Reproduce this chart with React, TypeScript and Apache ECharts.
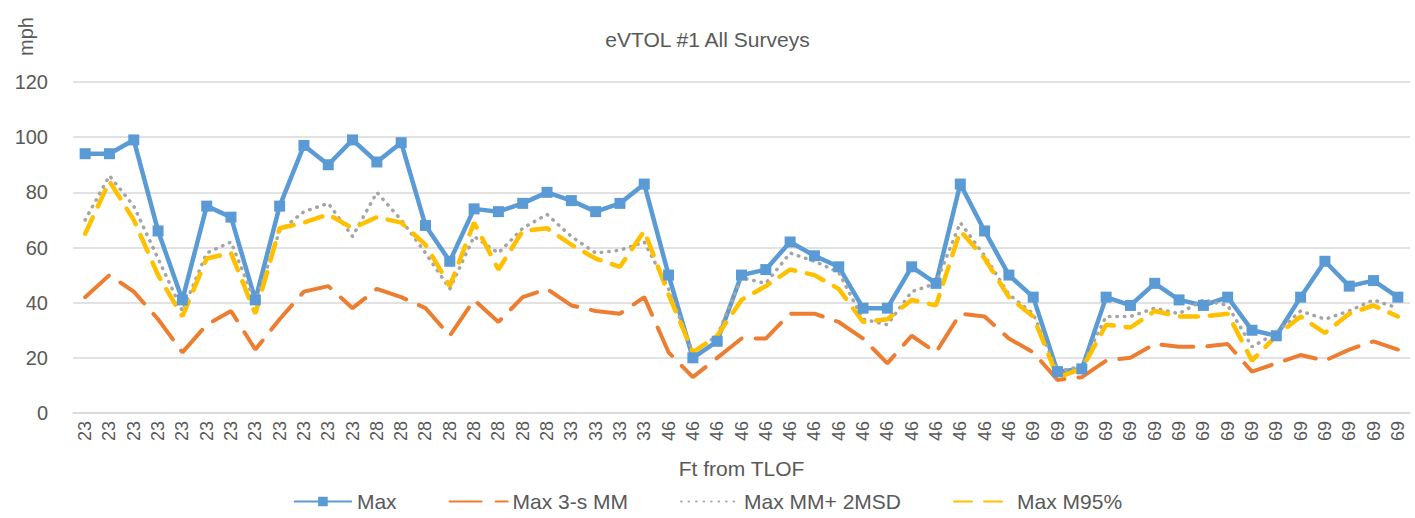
import React, { useEffect, useRef } from "react";
import * as echarts from "echarts";

const categories: string[] = [
  ...Array(12).fill("23"),
  ...Array(8).fill("28"),
  ...Array(4).fill("33"),
  ...Array(15).fill("46"),
  ...Array(16).fill("69"),
];

const maxValues = [94, 94, 99, 66, 41, 75, 71, 41, 75, 97, 90, 99, 91, 98, 68, 55, 74, 73, 76, 80, 77, 73, 76, 83, 50, 20, 26, 50, 52, 62, 57, 53, 38, 38, 53, 47, 83, 66, 50, 42, 15, 16, 42, 39, 47, 41, 39, 42, 30, 28, 42, 55, 46, 48, 42];
const max3sMM = [42, 50, 44, 34, 22, 32, 37, 23, 34, 44, 46, 38, 45, 42, 38, 28, 41, 33, 42, 45, 39, 37, 36, 42, 22, 13, 20, 27, 27, 36, 36, 33, 27, 18, 28, 22, 36, 35, 27, 22, 12, 13, 19, 20, 25, 24, 24, 25, 15, 18, 21, 19, 23, 26, 23];
const maxMM2MSD = [70, 86, 75, 56, 37, 58, 62, 40, 66, 73, 76, 64, 80, 70, 58, 45, 64, 58, 67, 72, 64, 58, 59, 62, 45, 22, 28, 49, 47, 58, 55, 51, 34, 32, 44, 47, 69, 57, 43, 36, 15, 17, 35, 35, 38, 36, 41, 39, 24, 29, 37, 34, 37, 41, 38];
const maxM95 = [65, 84, 70, 50, 35, 56, 58, 36, 67, 69, 72, 67, 71, 69, 61, 46, 69, 52, 66, 67, 61, 56, 53, 66, 43, 22, 28, 41, 46, 52, 50, 45, 33, 34, 41, 39, 66, 56, 42, 35, 13, 16, 32, 31, 37, 35, 35, 36, 19, 28, 35, 29, 36, 39, 35];

const yTicks = { min: 0, max: 120, interval: 20 };

const FONT = "'Liberation Sans Narrow', 'Liberation Sans', Arial, sans-serif";
const TEXT = "#595959";

export default function App() {
  const ref = useRef<HTMLDivElement>(null);
  useEffect(() => {
    document.body.style.margin = "0";
    const chart = echarts.init(ref.current!, undefined, { renderer: "svg" });
    const hiddenSym = { itemStyle: { opacity: 0 } };
    chart.setOption({
      animation: false,
      backgroundColor: "#ffffff",
      textStyle: { fontFamily: FONT, color: TEXT },
      title: {
        text: "eVTOL #1 All Surveys",
        left: "center",
        top: 24,
        textStyle: { fontFamily: FONT, fontSize: 21, fontWeight: "normal", color: TEXT },
      },
      graphic: [
        {
          type: "text",
          x: 16,
          y: 56,
          rotation: Math.PI / 2,
          style: { text: "mph", fontFamily: FONT, fontSize: 20, fill: TEXT, textVerticalAlign: "top" },
        },
      ],
      legend: {
        bottom: 1,
        left: "center",
        itemWidth: 58,
        itemHeight: 12,
        itemGap: 52,
        textStyle: { fontFamily: FONT, fontSize: 21, color: TEXT },
        data: [
          { name: "Max" },
          { name: "Max 3-s MM", ...hiddenSym },
          { name: "Max MM+ 2MSD", ...hiddenSym },
          { name: "Max M95%", ...hiddenSym },
        ],
      },
      grid: { left: 73, right: 5, top: 82, bottom: 105, containLabel: false },
      xAxis: {
        type: "category",
        data: categories,
        boundaryGap: true,
        name: "Ft from TLOF",
        nameLocation: "middle",
        nameGap: 45,
        nameTextStyle: { fontFamily: FONT, fontSize: 21, color: TEXT },
        axisLine: { lineStyle: { color: "#d9d9d9", width: 1.5 } },
        axisTick: { show: false },
        axisLabel: { interval: 0, rotate: 90, fontFamily: FONT, fontSize: 18, color: TEXT, margin: 8 },
      },
      yAxis: {
        type: "value",
        min: yTicks.min,
        max: yTicks.max,
        interval: yTicks.interval,
        axisLine: { show: false },
        axisTick: { show: false },
        axisLabel: { fontFamily: FONT, fontSize: 20, color: TEXT, margin: 25 },
        splitLine: { lineStyle: { color: "#d9d9d9", width: 1.5 } },
      },
      series: [
        {
          name: "Max",
          type: "line",
          data: maxValues,
          color: "#5B9BD5",
          symbol: "rect",
          symbolSize: 11,
          lineStyle: { width: 4.5, color: "#5B9BD5" },
          itemStyle: { color: "#5B9BD5" },
        },
        {
          name: "Max 3-s MM",
          type: "line",
          data: max3sMM,
          color: "#ED7D31",
          symbol: "none",
          lineStyle: { width: 4, color: "#ED7D31", type: [32, 14], cap: "round" },
        },
        {
          name: "Max MM+ 2MSD",
          type: "line",
          data: maxMM2MSD,
          color: "#A5A5A5",
          symbol: "none",
          lineStyle: { width: 3.5, color: "#A5A5A5", type: [0.5, 7], cap: "round" },
        },
        {
          name: "Max M95%",
          type: "line",
          data: maxM95,
          color: "#FFC000",
          symbol: "none",
          lineStyle: { width: 4.5, color: "#FFC000", type: [18, 12], cap: "round" },
        },
      ],
    });
    return () => chart.dispose();
  }, []);
  return (
    <div
      ref={ref}
      style={{ position: "fixed", left: 0, top: 0, width: 1415, height: 518 }}
    />
  );
}
